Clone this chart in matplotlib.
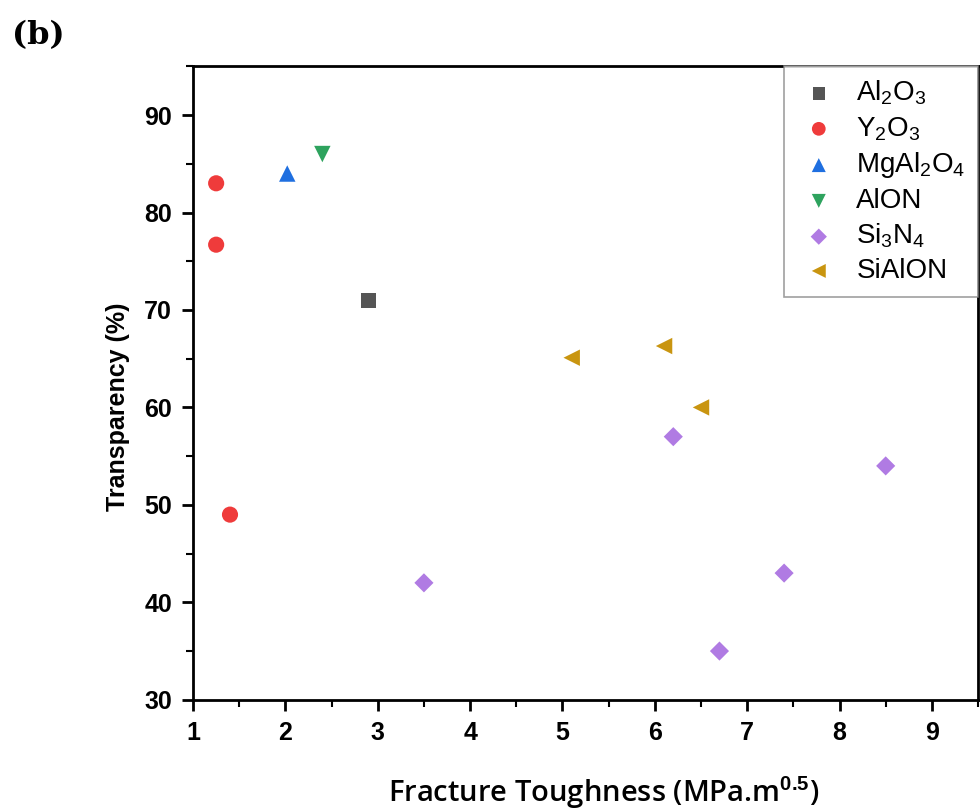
"""
Fracture toughness vs transparency for transparent ceramics, panel (b).
"""

import matplotlib.pyplot as plt
from matplotlib.ticker import MultipleLocator

plt.rcParams["mathtext.fontset"] = "custom"
plt.rcParams["mathtext.rm"] = "Liberation Sans"
plt.rcParams["mathtext.it"] = "Liberation Sans:italic"
plt.rcParams["mathtext.bf"] = "Liberation Sans:bold"

# Data
AL2O3_X    = [2.9]
AL2O3_Y    = [71.0]
Y2O3_X     = [1.25, 1.25, 1.4]
Y2O3_Y     = [83.0, 76.7, 49.0]
MGAL2O4_X  = [2.02]
MGAL2O4_Y  = [84.0]
ALON_X     = [2.4]
ALON_Y     = [86.0]
SI3N4_X    = [3.5, 6.2, 6.7, 7.4, 8.5]
SI3N4_Y    = [42.0, 57.0, 35.0, 43.0, 54.0]
SIALON_X   = [5.1, 6.1, 6.5]
SIALON_Y   = [65.1, 66.3, 60.0]

SERIES = [
    (r"Al$_2$O$_3$",     AL2O3_X,   AL2O3_Y,   "s", "#555555", 110),
    (r"Y$_2$O$_3$",      Y2O3_X,    Y2O3_Y,    "o", "#EF3B3B", 135),
    (r"MgAl$_2$O$_4$",   MGAL2O4_X, MGAL2O4_Y, "^", "#1F6FE0", 140),
    ("AlON",             ALON_X,    ALON_Y,    "v", "#2EA35E", 140),
    (r"Si$_3$N$_4$",     SI3N4_X,   SI3N4_Y,   "D", "#B07BE3", 95),
    ("SiAlON",           SIALON_X,  SIALON_Y,  "<", "#C99510", 140),
]

fig = plt.figure(figsize=(9.8, 8.09), dpi=100)
ax = fig.add_axes([0.197, 0.135, 0.801, 0.783])

for label, xs, ys, marker, color, size in SERIES:
    ax.scatter(xs, ys, marker=marker, s=size, color=color,
               edgecolors="none", label=label, zorder=3)

ax.set_xlim(1, 9.5)
ax.set_ylim(30, 95)
ax.xaxis.set_major_locator(MultipleLocator(1))
ax.xaxis.set_minor_locator(MultipleLocator(0.5))
ax.yaxis.set_major_locator(MultipleLocator(10))
ax.yaxis.set_minor_locator(MultipleLocator(5))

ax.tick_params(which="major", direction="out", length=8, width=2,
               labelsize=18, pad=7)
ax.tick_params(which="minor", direction="out", length=5, width=1.5)
for lbl in ax.get_xticklabels() + ax.get_yticklabels():
    lbl.set_fontfamily("Liberation Sans")
    lbl.set_fontweight("bold")

for side in ["left", "bottom", "top", "right"]:
    ax.spines[side].set_linewidth(2)

ax.set_ylabel("Transparency (%)", fontsize=18, fontweight="bold",
              family="Liberation Sans")
ax.yaxis.set_label_coords(-0.08, 0.462)
ax.set_xlabel(r"Fracture Toughness (MPa.m$^{\mathbf{0.5}}$)", fontsize=21,
              fontweight="semibold", family="Open Sans")
ax.xaxis.set_label_coords(0.523, -0.118)

leg = ax.legend(loc="upper right", bbox_to_anchor=(1.0, 1.0),
                borderaxespad=0, fancybox=False, edgecolor="#888888",
                prop={"family": "Liberation Sans", "size": 20},
                handletextpad=0.55, labelspacing=0.28, borderpad=0.45,
                handlelength=1.6, scatterpoints=1, markerscale=0.85)
leg.get_frame().set_linewidth(1.2)

fig.text(0.012, 0.975, "(b)", fontsize=23, fontweight="bold",
         family="DejaVu Serif", va="top")

fig.savefig("out.png", dpi=100)
